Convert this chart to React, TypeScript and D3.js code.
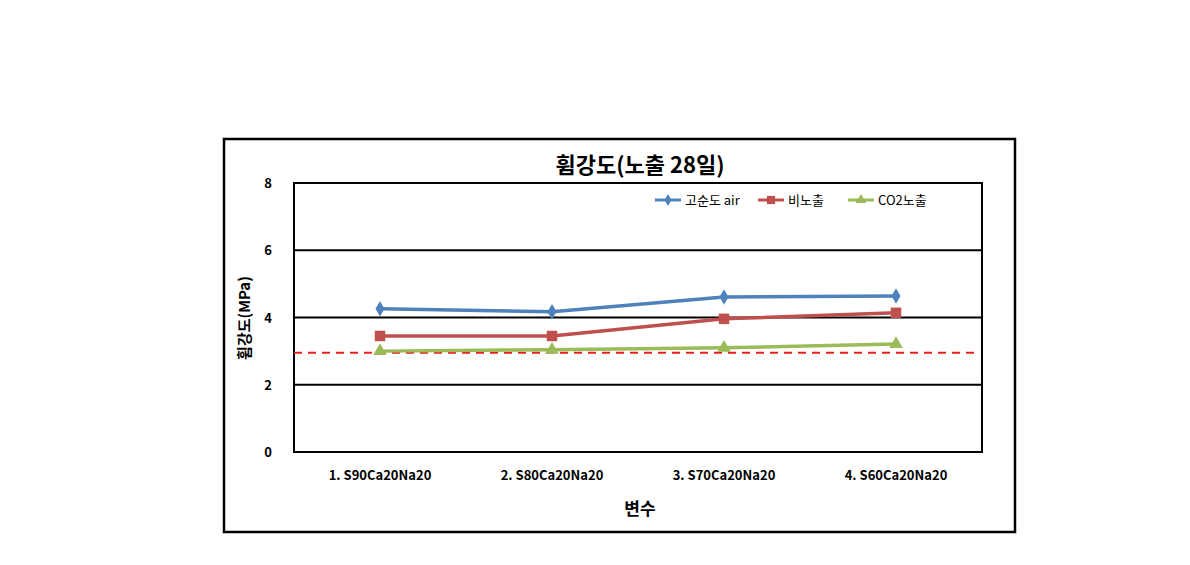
import React from "react";
import * as d3 from "d3";

const categories = ["1. S90Ca20Na20", "2. S80Ca20Na20", "3. S70Ca20Na20", "4. S60Ca20Na20"];
const seriesNames = ["고순도 air", "비노출", "CO2노출"];
const airValues = [4.26, 4.17, 4.61, 4.64];
const unexposedValues = [3.45, 3.45, 3.96, 4.14];
const co2Values = [3.0, 3.04, 3.1, 3.21];
const referenceLine = 2.95;
const yTicks = [0, 2, 4, 6, 8];

const colors = ["#4F81BD", "#C0504D", "#9BBB59"];
const symbols = [d3.symbolDiamond, d3.symbolSquare, d3.symbolTriangle];
const symbolSizes = [70, 110, 80];

export default function App() {
  const W = 1190, H = 565;
  const left = 294, right = 982, top = 183, bottom = 452;
  const x = d3.scaleBand<string>().domain(categories).range([left, right]);
  const y = d3.scaleLinear().domain([0, 8]).range([bottom, top]);
  const allSeries = [airValues, unexposedValues, co2Values];
  const line = d3.line<number>()
    .x((_, i) => (x(categories[i]) as number) + x.bandwidth() / 2)
    .y((d) => y(d));
  const font = "'Malgun Gothic', 'Noto Sans CJK KR', sans-serif";
  const legendX = [655, 758, 848];

  return (
    <svg width={W} height={H} style={{ position: "absolute", left: 0, top: 0 }} fontFamily={font}>
      <rect x={0} y={0} width={W} height={H} fill="#fff" />
      <rect x={224} y={139} width={791} height={393} fill="#fff" stroke="#000" strokeWidth={2.5} />
      <text x={640} y={173} textAnchor="middle" fontSize={22} fontWeight="bold">휨강도(노출 28일)</text>
      {yTicks.map((t) => (
        <g key={t}>
          {t > 0 && t < 8 && (
            <line x1={left} x2={right} y1={y(t)} y2={y(t)} stroke="#000" strokeWidth={2} />
          )}
          <text x={268} y={y(t) + 5} textAnchor="middle" fontSize={13} fontWeight="bold">{t}</text>
        </g>
      ))}
      <rect x={left} y={top} width={right - left} height={bottom - top} fill="none" stroke="#000" strokeWidth={2} />
      <line x1={left} x2={975} y1={y(referenceLine)} y2={y(referenceLine)} stroke="#E8201E" strokeWidth={2} strokeDasharray="8,6" />
      {allSeries.map((vals, si) => (
        <g key={si}>
          <path d={line(vals) || ""} fill="none" stroke={colors[si]} strokeWidth={3.5} />
          {vals.map((v, i) => (
            <path
              key={i}
              d={d3.symbol().type(symbols[si]).size(symbolSizes[si])() || ""}
              transform={`translate(${(x(categories[i]) as number) + x.bandwidth() / 2},${y(v)})`}
              fill={colors[si]}
            />
          ))}
        </g>
      ))}
      {seriesNames.map((n, si) => (
        <g key={n}>
          <line x1={legendX[si]} x2={legendX[si] + 26} y1={200} y2={200} stroke={colors[si]} strokeWidth={3} />
          <path d={d3.symbol().type(symbols[si]).size(symbolSizes[si] * 0.6)() || ""} transform={`translate(${legendX[si] + 13},200)`} fill={colors[si]} />
          <text x={legendX[si] + 30} y={205} fontSize={13}>{n}</text>
        </g>
      ))}
      {categories.map((c) => (
        <text key={c} x={(x(c) as number) + x.bandwidth() / 2} y={480} textAnchor="middle" fontSize={13} fontWeight="bold">{c}</text>
      ))}
      <text x={640} y={515} textAnchor="middle" fontSize={17} fontWeight="bold">변수</text>
      <text transform={`translate(250,318) rotate(-90)`} textAnchor="middle" fontSize={15} fontWeight="bold">휨강도(MPa)</text>
    </svg>
  );
}
